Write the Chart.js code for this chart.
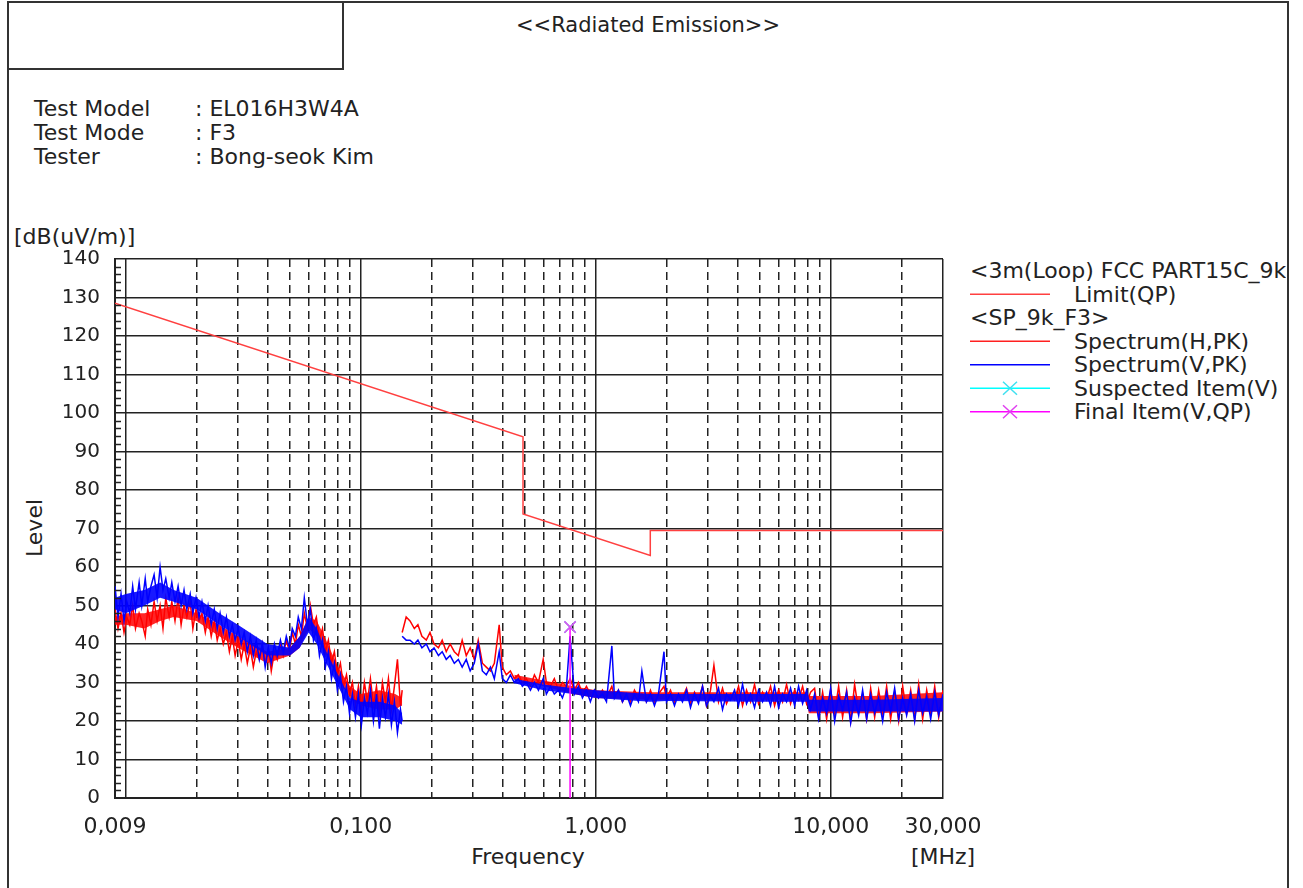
<!DOCTYPE html>
<html>
<head>
<meta charset="utf-8">
<script src="https://cdn.jsdelivr.net/npm/chart.js@4.4.1/dist/chart.umd.min.js"></script>
<style>
body { margin: 0; background: #fff; width: 1303px; height: 888px; overflow: hidden; position: relative; font-family: "DejaVu Sans", sans-serif; color: #222; }
canvas { position: absolute; left: 0; top: 0; }
.t { position: absolute; white-space: nowrap; font-size: 22px; line-height: 24px; }
#frame { position: absolute; left: 7px; top: 1px; width: 1282px; height: 920px; border: 2px solid #333; box-sizing: border-box; }
#titlebox { position: absolute; left: 7px; top: 1px; width: 337px; height: 69px; border: 2px solid #333; box-sizing: border-box; }
#legend { position: absolute; left: 962px; top: 259px; width: 324px; height: 170px; overflow: hidden; }
#legend .row { position: absolute; white-space: nowrap; font-size: 22px; line-height: 23.5px; }
</style>
</head>
<body>
<div id="frame"></div>
<div id="titlebox"></div>
<div class="t" style="left:648px;top:13px;font-size:21px;transform:translateX(-50%)">&lt;&lt;Radiated Emission&gt;&gt;</div>

<div class="t" style="left:34px;top:97px">Test Model</div>
<div class="t" style="left:34px;top:121px">Test Mode</div>
<div class="t" style="left:34px;top:145px">Tester</div>
<div class="t" style="left:195px;top:97px">: EL016H3W4A</div>
<div class="t" style="left:195px;top:121px">: F3</div>
<div class="t" style="left:195px;top:145px">: Bong-seok Kim</div>

<div class="t" style="left:14px;top:225px">[dB(uV/m)]</div>
<div class="t" style="left:35px;top:528px;transform:translate(-50%,-50%) rotate(-90deg)">Level</div>
<div class="t" style="left:528px;top:845px;transform:translateX(-50%)">Frequency</div>
<div class="t" style="left:943px;top:845px;transform:translateX(-50%)">[MHz]</div>

<div id="legend">
  <svg width="100" height="170" style="position:absolute;left:0;top:0">
    <line x1="8" x2="88" y1="35.25" y2="35.25" stroke="#ff4040" stroke-width="1.5"/>
    <line x1="8" x2="88" y1="82.25" y2="82.25" stroke="#ff2020" stroke-width="1.5"/>
    <line x1="8" x2="88" y1="105.75" y2="105.75" stroke="#0000ff" stroke-width="1.5"/>
    <line x1="8" x2="88" y1="129.25" y2="129.25" stroke="#00ffff" stroke-width="1.5"/>
    <path d="M41 122.75 L55 135.75 M55 122.75 L41 135.75" stroke="#40e0f0" stroke-width="1.5"/>
    <line x1="8" x2="88" y1="152.75" y2="152.75" stroke="#ff00ff" stroke-width="1.5"/>
    <path d="M41 146.25 L55 159.25 M55 146.25 L41 159.25" stroke="#e040f0" stroke-width="1.5"/>
  </svg>
  <div class="row" style="left:8px;top:0px">&lt;3m(Loop) FCC PART15C_9k</div>
  <div class="row" style="left:112px;top:23.5px">Limit(QP)</div>
  <div class="row" style="left:8px;top:47px">&lt;SP_9k_F3&gt;</div>
  <div class="row" style="left:112px;top:70.5px">Spectrum(H,PK)</div>
  <div class="row" style="left:112px;top:94px">Spectrum(V,PK)</div>
  <div class="row" style="left:112px;top:117.5px">Suspected Item(V)</div>
  <div class="row" style="left:112px;top:141px">Final Item(V,QP)</div>
</div>

<canvas id="chart" width="1303" height="888"></canvas>

<script>
// axis grid and labels
const xGrid = [0.009, 0.01, 0.02, 0.03, 0.04, 0.05, 0.06, 0.07, 0.08, 0.09,
  0.1, 0.2, 0.3, 0.4, 0.5, 0.6, 0.7, 0.8, 0.9,
  1, 2, 3, 4, 5, 6, 7, 8, 9, 10, 20, 30]
const xSolid = [0.009, 0.01, 0.1, 1, 10, 30]
const xLabelValues = [0.009, 0.1, 1, 10, 30]
const xLabelText = ["0,009", "0,100", "1,000", "10,000", "30,000"]

// limit line (QP)
const limitFreq = [0.009, 0.49, 0.49, 1.705, 1.705, 30]
const limitLevel = [128.5, 93.8, 73.8, 63.0, 69.5, 69.5]

// band 1: 9 kHz - 150 kHz
const freq1 = [0.009, 0.00927, 0.00955, 0.00983, 0.0101, 0.0104, 0.0107, 0.0110, 0.0114, 0.0117,
  0.0121, 0.0124, 0.0128, 0.0132, 0.0136, 0.0140, 0.0144, 0.0148, 0.0153, 0.0157,
  0.0162, 0.0167, 0.0172, 0.0177, 0.0182, 0.0188, 0.0193, 0.0199, 0.0205, 0.0211,
  0.0218, 0.0224, 0.0231, 0.0238, 0.0245, 0.0252, 0.0260, 0.0268, 0.0276, 0.0284,
  0.0292, 0.0301, 0.0310, 0.0319, 0.0329, 0.0339, 0.0349, 0.0359, 0.0370, 0.0381,
  0.0392, 0.0404, 0.0416, 0.0429, 0.0441, 0.0455, 0.0468, 0.0482, 0.0497, 0.0511,
  0.0527, 0.0542, 0.0559, 0.0575, 0.0593, 0.0610, 0.0629, 0.0647, 0.0667, 0.0687,
  0.0707, 0.0728, 0.0750, 0.0772, 0.0795, 0.0819, 0.0844, 0.0869, 0.0895, 0.0921,
  0.0949, 0.0977, 0.1006, 0.1036, 0.1067, 0.1099, 0.1132, 0.1166, 0.1200, 0.1236,
  0.1273, 0.1311, 0.1350, 0.1390, 0.1432, 0.1475, 0.150]
const specH1 = [49, 44, 48, 43, 47, 45, 50, 44, 48, 46,
  42, 49, 45, 51, 46, 50, 44, 52, 47, 51,
  46, 52, 45, 50, 47, 51, 44, 49, 46, 48,
  43, 47, 42, 46, 41, 44, 40, 43, 38, 42,
  37, 41, 36, 40, 35, 39, 34, 38, 36, 40,
  35, 39, 33, 38, 36, 40, 37, 41, 38, 43,
  40, 45, 42, 48, 44, 50, 45, 47, 41, 44,
  38, 41, 35, 38, 32, 35, 29, 32, 27, 30,
  24, 29, 23, 30, 25, 31, 24, 29, 22, 30,
  25, 31, 23, 29, 36, 24, 28]
const specV1 = [55, 47, 53, 46, 51, 48, 55, 49, 56, 50,
  57, 51, 55, 58, 52, 60, 54, 57, 52, 56,
  51, 55, 50, 54, 49, 53, 48, 52, 47, 51,
  46, 50, 45, 49, 44, 48, 43, 47, 42, 45,
  41, 44, 40, 43, 38, 42, 37, 41, 36, 40,
  34, 39, 35, 40, 37, 41, 38, 42, 39, 44,
  42, 47, 44, 52, 45, 49, 41, 44, 37, 41,
  34, 38, 31, 35, 28, 32, 25, 29, 22, 27,
  21, 27, 19, 26, 22, 28, 20, 27, 18, 26,
  21, 27, 19, 25, 17, 23, 20]

// band 2: 150 kHz - 30 MHz
const freq2 = [0.150, 0.156, 0.162, 0.169, 0.175, 0.182, 0.190, 0.197, 0.205, 0.214,
  0.222, 0.231, 0.240, 0.250, 0.260, 0.270, 0.281, 0.292, 0.304, 0.316,
  0.329, 0.342, 0.356, 0.370, 0.388, 0.400, 0.416, 0.433, 0.450, 0.468,
  0.487, 0.506, 0.527, 0.548, 0.570, 0.597, 0.616, 0.641, 0.666, 0.693,
  0.721, 0.750, 0.777, 0.811, 0.843, 0.877, 0.912, 0.948, 0.986, 1.026,
  1.067, 1.110, 1.170, 1.200, 1.248, 1.298, 1.350, 1.404, 1.460, 1.518,
  1.570, 1.642, 1.708, 1.776, 1.847, 1.950, 1.998, 2.078, 2.161, 2.247,
  2.337, 2.431, 2.528, 2.629, 2.734, 2.844, 2.957, 3.076, 3.180, 3.327,
  3.460, 3.598, 3.742, 3.892, 4.047, 4.209, 4.378, 4.553, 4.735, 4.924,
  5.121, 5.326, 5.539, 5.761, 5.991, 6.231, 6.480, 6.739, 7.009, 7.289,
  7.581, 7.884, 8.200, 8.528, 8.869, 9.224, 9.593, 9.976, 10.38, 10.79,
  11.22, 11.67, 12.14, 12.62, 13.13, 13.65, 14.20, 14.77, 15.36, 15.97,
  16.61, 17.27, 17.96, 18.68, 19.43, 20.21, 21.01, 21.86, 22.73, 23.64,
  24.58, 25.57, 26.59, 27.66, 28.76, 30.00]
const specH2 = [43, 47, 46, 44, 45, 42, 41, 43, 40, 39,
  41, 38, 40, 38, 37, 41, 37, 39, 36, 41,
  35, 34, 33, 35, 45, 34, 32, 33, 31, 32,
  30, 31, 29, 32, 30, 36, 30, 29, 31, 28,
  30, 29, 31, 28, 30, 27, 29, 27, 28, 26,
  28, 26, 29, 26, 28, 25, 27, 25, 28, 26,
  27, 25, 28, 25, 27, 29, 26, 28, 25, 27,
  26, 28.5, 24.5, 27.5, 25.5, 29, 24, 28, 34.5, 25,
  28.5, 24.5, 27, 25.5, 29, 24, 28, 25, 29.5, 24.5,
  27.5, 25.5, 29, 24, 28, 25, 29.5, 24.5, 28, 25.5,
  29, 24.5, 27.5, 28.5, 21, 27.5, 20.5, 28, 22, 29,
  21, 28, 20, 29.5, 22.5, 27, 20.5, 28.5, 21, 28,
  22, 29, 20.5, 27.5, 20, 29, 22, 28, 20.5, 29.5,
  20.5, 28, 22, 29, 21, 28]
const specV2 = [42, 41, 41, 40, 41, 39, 40, 38, 39, 37,
  38, 36, 37, 35, 36, 34, 36, 33, 35, 40,
  33, 32, 34, 31, 38, 31, 30, 32, 30, 31,
  29, 30, 28, 30, 28, 31, 27, 29, 27, 28,
  26, 29, 42, 27, 29, 26, 28, 25, 28, 26,
  27, 25, 39.5, 26, 28, 25, 27, 24, 27, 25,
  33, 25, 27, 24, 27, 38, 25, 27, 24, 27,
  25, 28, 23.5, 27, 24.5, 29, 24, 26.5, 25, 28.5,
  23, 27, 25.5, 28, 24, 29.5, 24.5, 27, 23.5, 28,
  25, 27.5, 24, 29, 23.5, 27, 25, 28.5, 24, 29,
  24.5, 28, 23, 27, 20.5, 26, 22, 28.5, 20, 26.5,
  23, 27.5, 19.5, 26, 21.5, 28, 20.5, 27, 22, 26,
  20, 27.5, 22.5, 28.5, 20.5, 26, 21.5, 27, 20, 28,
  22, 26.5, 20.5, 27.5, 21.5, 27]

// core of the dense noise band (lower / upper edge)
const bandFreq1 = [0.009, 0.010, 0.012, 0.014, 0.016, 0.020, 0.025, 0.030, 0.040, 0.050,
  0.055, 0.060, 0.065, 0.070, 0.080, 0.090, 0.100, 0.120, 0.140, 0.150]
const bandVLow1 = [49, 48, 50, 52, 51, 49, 45, 42, 37, 37, 39, 43, 40, 36, 29, 23, 21, 21, 20, 19]
const bandVHigh1 = [52, 53, 54, 56, 54, 52, 48, 45, 40, 39, 42, 47, 44, 39, 32, 26, 25, 25, 24, 22]
const bandHLow1 = [45, 45, 44, 46, 47, 46, 42, 39, 35, 37, 39, 44, 42, 38, 31, 26, 24, 23, 23, 24]
const bandHHigh1 = [47, 48, 48, 49, 50, 48, 45, 42, 38, 39, 42, 47, 46, 42, 34, 29, 27, 28, 27, 26]
const bandFreq2 = [0.45, 0.6, 0.8, 1.0, 1.7, 2.0, 5.0, 7.9, 8.05, 15, 30]
const bandVLow2 = [29.8, 28, 27, 26, 25, 25.2, 25, 25, 22.5, 22.5, 22.5]
const bandVHigh2 = [31, 29.5, 28.5, 28, 27, 27, 27, 27, 25.5, 25.5, 26]
const bandHLow2 = [31, 29, 27, 26, 25.5, 25.5, 25.5, 25.5, 22, 22, 22.5]
const bandHHigh2 = [32, 30.5, 29, 28, 27.5, 27.5, 27.5, 27.5, 26.5, 26.5, 27.5]

// final / suspected item
const itemFreq = [0.777]
const itemLevel = [44.4]

const pts = (xs, ys) => xs.map((x, i) => ({ x: x, y: ys[i] }))

const minorTicks = {
  id: "minorTicks",
  afterDatasetsDraw(chart) {
    const { ctx, chartArea, scales } = chart
    ctx.save()
    ctx.strokeStyle = "#222"
    ctx.lineWidth = 1.5
    for (let v = 2; v < 140; v += 2) {
      if (v % 10 === 0) continue
      const py = Math.round(scales.y.getPixelForValue(v)) + 0.5
      ctx.beginPath()
      ctx.moveTo(chartArea.left, py)
      ctx.lineTo(chartArea.left + 6, py)
      ctx.stroke()
    }
    ctx.restore()
  }
}

Chart.defaults.font.family = "DejaVu Sans"
const isSolid = v => xSolid.some(s => Math.abs(s - v) < 1e-9)
const trace = (label, order, data, color) => ({
  label: label, order: order, showLine: true, data: data,
  borderColor: color, borderWidth: 1.5, pointRadius: 0
})
const edge = (order, data) => ({
  order: order, showLine: true, data: data, borderWidth: 0, borderColor: "rgba(0,0,0,0)", pointRadius: 0
})
const band = (order, data, target, color) => ({
  order: order, showLine: true, data: data, borderWidth: 0, borderColor: "rgba(0,0,0,0)",
  pointRadius: 0, fill: { target: target }, backgroundColor: color
})

const blueFill = "rgba(0,0,255,0.9)"
const redFill = "rgba(255,0,0,0.85)"

new Chart(document.getElementById("chart"), {
  type: "scatter",
  data: {
    datasets: [
      {
        label: "Final Item(V,QP)", order: 0, showLine: true,
        data: [{ x: itemFreq[0], y: 0 }, { x: itemFreq[0], y: itemLevel[0] }],
        borderColor: "#ff00ff", borderWidth: 1.5,
        pointStyle: "crossRot", pointRadius: [0, 8], pointBorderColor: "#e050f0", pointBorderWidth: 1.5
      },
      {
        label: "Suspected Item(V)", order: 1, showLine: false,
        data: pts(itemFreq, itemLevel),
        pointStyle: "crossRot", pointRadius: 8, pointBorderColor: "#40e0f0", pointBorderWidth: 1.5
      },
      trace("Limit(QP)", 2, pts(limitFreq, limitLevel), "#ff4040"),
      trace("Spectrum(V,PK)", 3, pts(freq1, specV1), "#0000ff"),
      trace("Spectrum(V,PK)", 3, pts(freq2, specV2), "#0000ff"),
      edge(4, pts(bandFreq1, bandVLow1)),                  // 5
      band(4, pts(bandFreq1, bandVHigh1), 5, blueFill),
      edge(4, pts(bandFreq2, bandVLow2)),                  // 7
      band(4, pts(bandFreq2, bandVHigh2), 7, blueFill),
      trace("Spectrum(H,PK)", 5, pts(freq1, specH1), "#ff0000"),
      trace("Spectrum(H,PK)", 5, pts(freq2, specH2), "#ff0000"),
      edge(6, pts(bandFreq1, bandHLow1)),                  // 11
      band(6, pts(bandFreq1, bandHHigh1), 11, redFill),
      edge(6, pts(bandFreq2, bandHLow2)),                  // 13
      band(6, pts(bandFreq2, bandHHigh2), 13, redFill)
    ]
  },
  options: {
    responsive: false,
    animation: false,
    devicePixelRatio: 1,
    layout: { padding: { left: 0, top: 259, right: 360, bottom: 0 } },
    plugins: { legend: { display: false }, tooltip: { enabled: false } },
    scales: {
      x: {
        type: "logarithmic", min: 0.009, max: 30,
        afterBuildTicks: s => { s.ticks = xGrid.map(v => ({ value: v })) },
        afterFit: s => { s.height = 90 },
        grid: { color: "#222", lineWidth: 1.5, drawTicks: false },
        border: {
          color: "#222", width: 2,
          dash: c => (c.tick && !isSolid(c.tick.value)) ? [8, 5] : []
        },
        ticks: {
          autoSkip: false, maxRotation: 0, padding: 16, font: { size: 22 }, color: "#222",
          callback: v => {
            const i = xLabelValues.findIndex(l => Math.abs(l - v) < 1e-9)
            return i >= 0 ? xLabelText[i] : ""
          }
        }
      },
      y: {
        min: 0, max: 140,
        afterFit: s => { s.width = 115 },
        grid: { color: "#222", lineWidth: 1.5, drawTicks: false },
        border: { color: "#222", width: 2 },
        ticks: { stepSize: 10, padding: 15, font: { size: 20 }, color: "#222" }
      }
    }
  },
  plugins: [minorTicks]
})
</script>
</body>
</html>
